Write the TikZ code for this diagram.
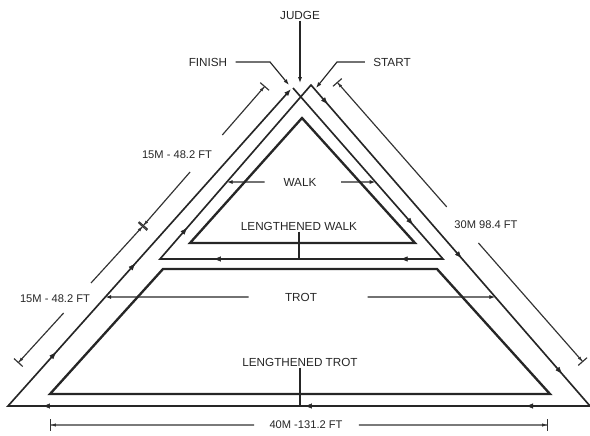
\documentclass[tikz,border=0pt]{standalone}
\usepackage{fontspec}
\setmainfont{Liberation Sans}
\usetikzlibrary{arrows.meta, calc, decorations.markings}

\tikzset{
  track/.style={line width=1.4pt, black!85},
  lengthened/.style={line width=2pt, black!85},
  dimline/.style={line width=1pt, black!80},
  tag/.style={font=\fontsize{10}{12}\selectfont, inner sep=1pt, black!85},
  dimtag/.style={font=\fontsize{9.5}{11}\selectfont, inner sep=1pt, black!85},
  pointer/.style={line width=1pt, black!85, -{Latex[length=5pt,width=3.5pt]}},
  dirmark/.style={postaction={decorate}, decoration={markings,
      mark=at position #1 with {\arrow[black!85]{Latex[length=6pt,width=4.5pt]}}}},
}

\begin{document}
\begin{tikzpicture}[x=0.3mm, y=-0.3mm]
  \useasboundingbox (0,0) rectangle (590,435);
  % outer (trot) track
  \coordinate (OL) at (8,406);
  \coordinate (OR) at (590,406);
  \coordinate (A) at (311,85);
  \coordinate (F) at (291,89);
  % walk track
  \coordinate (S) at (293,88);
  \coordinate (WL) at (160,259);
  \coordinate (WR) at (443,259);
  % lengthened walk triangle
  \coordinate (IA) at (302,118);
  \coordinate (IL) at (190,243);
  \coordinate (IR) at (415,243);
  % lengthened trot trapezium
  \coordinate (TL) at (163,269);
  \coordinate (TR) at (437,269);
  \coordinate (BL) at (50,394);
  \coordinate (BR) at (550,394);

  \draw[track, -{Latex[length=6pt,width=4.5pt]}] (S) -- (WR) -- (WL) -- (A) -- (OR) -- (OL) -- (F);
  \draw[lengthened] (IA) -- (IR) -- (IL) -- cycle;
  \draw[lengthened] (TL) -- (TR) -- (BR) -- (BL) -- cycle;

  % direction of travel
  \foreach \a/\b/\t in {S/WR/0.8, WR/WL/0.15, WR/WL/0.81, WL/A/0.18, A/OR/0.06,
      A/OR/0.54, A/OR/0.9, OR/OL/0.11, OR/OL/0.49, OR/OL/0.94, OL/F/0.17, OL/F/0.45}
    \path[dirmark=\t] (\a) -- (\b);

  % labels
  \node[tag] (judge) at (300,15) {JUDGE};
  \node[tag] (finish) at (208,62) {FINISH};
  \node[tag] (start) at (392,62) {START};
  \node[tag] (walk) at (300,182) {WALK};
  \node[tag] (lwalk) at (299,226) {LENGTHENED WALK};
  \node[tag] (trot) at (301,297) {TROT};
  \node[tag] (ltrot) at (300,362) {LENGTHENED TROT};

  \coordinate (jtip) at (300,83);
  \coordinate (fbend) at (270,62);
  \coordinate (ftip) at (289,85);
  \coordinate (sbend) at (337,62);
  \coordinate (stip) at (316,88);
  \draw[pointer] (judge) -- (jtip);
  \draw[pointer, shorten <=6pt] (finish) -- (fbend) -- (ftip);
  \draw[pointer, shorten <=6pt] (start) -- (sbend) -- (stip);

  \draw[pointer, shorten <=15pt] (walk) -- (intersection of WL--A and walk.west--walk.east);
  \draw[pointer, shorten <=20pt] (walk) -- (intersection of S--WR and walk.west--walk.east);
  \draw[pointer, shorten <=30pt] (trot) -- (intersection of OL--F and trot.west--trot.east);
  \draw[pointer, shorten <=42pt] (trot) -- (intersection of A--OR and trot.west--trot.east);
  \draw[line width=1.5pt, black!85] (lwalk) -- (lwalk |- WL);
  \draw[line width=1.5pt, black!85] (ltrot) -- (ltrot |- OL);

  % dimensions
  \coordinate (D1) at (265,86);
  \coordinate (D2) at (143,226);
  \coordinate (D3) at (18,363);
  \coordinate (R1) at (337,82);
  \coordinate (R2) at (583,362);
  \coordinate (B1) at (50,425);
  \coordinate (B2) at (548,425);
  \foreach \p/\q/\g/\h in {D1/D2/0.35/0.614, D2/D3/0.416/0.635,
      R1/R2/0.446/0.575, B1/B2/0.41/0.62} {
    \draw[dimline, {Bar[width=10pt]Latex[length=4pt,width=3pt]}-] (\p) -- ($(\p)!\g!(\q)$);
    \draw[dimline, -{Latex[length=4pt,width=3pt]Bar[width=10pt]}] ($(\p)!\h!(\q)$) -- (\q);
  }
  \node[dimtag] (dimA) at (177,155) {15M - 48.2 FT};
  \node[dimtag] (dimB) at (55,299) {15M - 48.2 FT};
  \node[dimtag] (dimC) at (486,225) {30M 98.4 FT};
  \node[dimtag] (dimD) at (306,425) {40M -131.2 FT};
\end{tikzpicture}
\end{document}
